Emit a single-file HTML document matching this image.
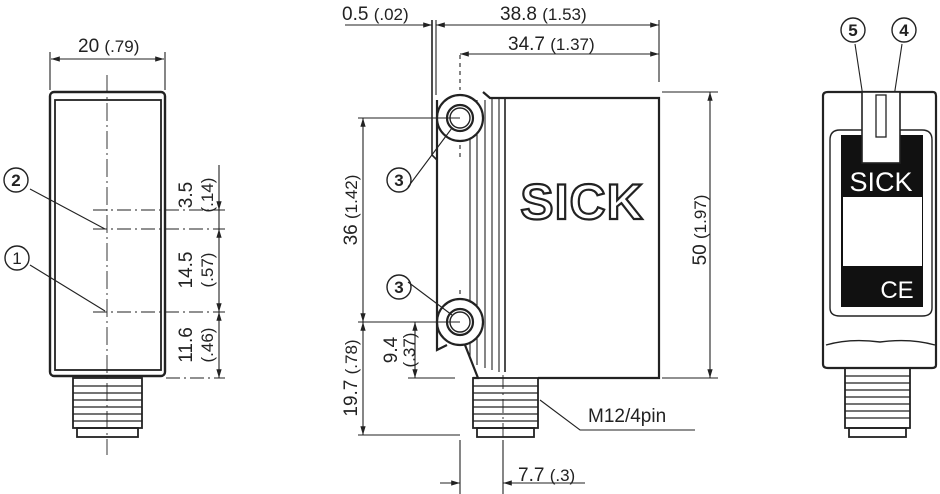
<!DOCTYPE html>
<html><head><meta charset="utf-8"><style>
html,body{margin:0;padding:0;background:#fff;}
svg{display:block;font-family:"Liberation Sans",sans-serif;}
</style></head><body>
<svg width="940" height="494" viewBox="0 0 940 494" xmlns="http://www.w3.org/2000/svg">
<defs>
<marker id="a" viewBox="0 0 10 10" refX="10" refY="5" markerWidth="8" markerHeight="8" orient="auto-start-reverse"><path d="M0,2 L10,5 L0,8 z" fill="#222"/></marker>
</defs>
<g stroke="#222" fill="none" stroke-width="1.1">
<!-- LEFT VIEW -->
<rect x="50" y="92" width="115" height="284" rx="4" stroke-width="2.4"/>
<rect x="55" y="100" width="106" height="270" stroke-width="1.8"/>
<rect x="73" y="378" width="69" height="50" stroke-width="1.8"/>
<rect x="77" y="428" width="61" height="9" stroke-width="1.8"/>
<g stroke-width="1.3"><path d="M73,386H142M73,393H142M73,400H142M73,407H142M73,414H142M73,421H142"/></g>
<path d="M107,75V455" stroke-dasharray="18,4,2,4" stroke-width="0.9"/>
<path d="M50,52V90M165,52V90"/>
<path d="M51,59H164" marker-start="url(#a)" marker-end="url(#a)"/>
<path d="M93,210H225M93,229H225M93,312H225M166,378H225" stroke-dasharray="14,4,2,4"/>
<path d="M219,165V210" marker-end="url(#a)"/>
<path d="M219,229V312" marker-start="url(#a)" marker-end="url(#a)"/>
<path d="M219,312V378" marker-start="url(#a)" marker-end="url(#a)"/>
<path d="M219,210V229"/>
<path d="M30,189L105,229M30,265L105,311"/>
<circle cx="16" cy="180" r="12" stroke-width="1.4"/>
<circle cx="17" cy="258" r="12" stroke-width="1.4"/>

<!-- MIDDLE VIEW -->
<path d="M437,100V350L447,345" stroke-width="2.2"/>
<path d="M483,92L490,98H659V378H538M473,378H478L465,345" stroke-width="2.2"/>
<path d="M432,20V155L437,160" stroke-width="1.6"/>
<path d="M436,20V95"/>
<g stroke-width="1.1"><path d="M470,100V358M477,100V365M485,100V368M492,98V370M499,98V372"/></g>
<path d="M505,98V372" stroke-width="1.6"/>
<circle cx="460" cy="118" r="23" stroke-width="2.2" fill="#fff"/>
<circle cx="460" cy="118" r="13" stroke-width="2.2"/>
<circle cx="460" cy="118" r="10" stroke-width="1.4"/>
<circle cx="460" cy="322" r="23" stroke-width="2.2" fill="#fff"/>
<circle cx="460" cy="322" r="13" stroke-width="2.2"/>
<circle cx="460" cy="322" r="10" stroke-width="1.4"/>
<rect x="473" y="378" width="65" height="50" stroke-width="1.8"/>
<rect x="477" y="428" width="57" height="9" stroke-width="1.8"/>
<g stroke-width="1.3"><path d="M473,386H538M473,393H538M473,400H538M473,407H538M473,414H538M473,421H538"/></g>
<path d="M503,375V480" stroke-dasharray="14,4,2,4" stroke-width="0.9"/>
<path d="M460,55V90M460,145V160M460,290V300" stroke-dasharray="4,4"/>
<path d="M659,20V82"/>
<path d="M345,25H432" marker-end="url(#a)"/>
<path d="M436,25H659" marker-start="url(#a)" marker-end="url(#a)"/>
<path d="M460,54H659" marker-start="url(#a)" marker-end="url(#a)"/>
<path d="M358,118H460M358,322H460M358,435H460M408,378H455"/>
<path d="M363,118V322" marker-start="url(#a)" marker-end="url(#a)"/>
<path d="M363,322V435" marker-start="url(#a)" marker-end="url(#a)"/>
<path d="M415,322V378" marker-start="url(#a)" marker-end="url(#a)"/>
<path d="M662,92H718M662,378H718"/>
<path d="M710,92V378" marker-start="url(#a)" marker-end="url(#a)"/>
<path d="M460,440V494M503,440V494"/>
<path d="M440,483H460" marker-end="url(#a)"/>
<path d="M503,483H585" marker-start="url(#a)"/>
<path d="M540,400L580,430H695"/>
<path d="M408,187L452,128M408,282L452,315"/>
<circle cx="399" cy="180" r="12" stroke-width="1.4"/>
<circle cx="399" cy="287" r="12" stroke-width="1.4"/>

<!-- RIGHT VIEW -->
<path d="M823,96Q823,92 828,92H933Q936,92 936,96V365Q936,368 932,368H828Q823,368 823,364Z" stroke-width="2.2"/>
<path d="M830,140Q830,130 840,130H922Q932,130 932,140V308Q932,316 922,316H840Q830,316 830,308Z" stroke-width="1.4"/>
<path d="M826,345Q850,338 880,342Q910,338 935,345" stroke-width="1.4"/>
<rect x="845" y="368" width="65" height="60" stroke-width="1.8"/>
<rect x="849" y="428" width="57" height="9" stroke-width="1.8"/>
<g stroke-width="1.3"><path d="M845,376H910M845,383H910M845,390H910M845,397H910M845,404H910M845,411H910M845,418H910"/></g>
<path d="M855,44L865,110M902,44L892,110"/>
<circle cx="853" cy="30" r="12" stroke-width="1.4"/>
<circle cx="904" cy="30" r="12" stroke-width="1.4"/>
</g>
<rect x="841" y="135" width="82" height="172" fill="#111"/>
<rect x="843" y="197" width="79" height="69" fill="#fff"/>
<rect x="862" y="92" width="38" height="71" fill="#fff" stroke="#222" stroke-width="1.6"/>
<rect x="876" y="95" width="10" height="42" fill="#fff" stroke="#222" stroke-width="1.3"/>
<text x="881" y="191" font-size="27" fill="#fff" text-anchor="middle">SICK</text>
<text x="897" y="298" font-size="24" fill="#fff" text-anchor="middle" font-weight="300">CE</text>

<text x="582" y="219" font-size="50" font-weight="bold" fill="#fff" stroke="#222" stroke-width="2.2" text-anchor="middle" letter-spacing="1">SICK</text>

<g fill="#222" font-size="19">
<text x="16" y="186" text-anchor="middle" font-size="17" font-weight="bold">2</text>
<text x="17" y="264" text-anchor="middle" font-size="17">1</text>
<text x="399" y="186" text-anchor="middle" font-size="17" font-weight="bold">3</text>
<text x="399" y="293" text-anchor="middle" font-size="17" font-weight="bold">3</text>
<text x="853" y="36" text-anchor="middle" font-size="17" font-weight="bold">5</text>
<text x="904" y="36" text-anchor="middle" font-size="17" font-weight="bold">4</text>
<text x="78" y="52">20 <tspan font-size="17">(.79)</tspan></text>
<text x="342" y="20">0.5 <tspan font-size="17">(.02)</tspan></text>
<text x="500" y="20">38.8 <tspan font-size="17">(1.53)</tspan></text>
<text x="508" y="50">34.7 <tspan font-size="17">(1.37)</tspan></text>
<text x="518" y="481">7.7 <tspan font-size="17">(.3)</tspan></text>
<text x="588" y="422">M12/4pin</text>
<g transform="translate(192,195) rotate(-90)"><text text-anchor="middle">3.5</text></g>
<g transform="translate(213,195) rotate(-90)"><text text-anchor="middle" font-size="17">(.14)</text></g>
<g transform="translate(192,270) rotate(-90)"><text text-anchor="middle">14.5</text></g>
<g transform="translate(213,270) rotate(-90)"><text text-anchor="middle" font-size="17">(.57)</text></g>
<g transform="translate(192,345) rotate(-90)"><text text-anchor="middle">11.6</text></g>
<g transform="translate(213,345) rotate(-90)"><text text-anchor="middle" font-size="17">(.46)</text></g>
<g transform="translate(357,210) rotate(-90)"><text text-anchor="middle">36 <tspan font-size="17">(1.42)</tspan></text></g>
<g transform="translate(357,378) rotate(-90)"><text text-anchor="middle">19.7 <tspan font-size="17">(.78)</tspan></text></g>
<g transform="translate(397,350) rotate(-90)"><text text-anchor="middle">9.4</text></g>
<g transform="translate(415,350) rotate(-90)"><text text-anchor="middle" font-size="17">(.37)</text></g>
<g transform="translate(706,230) rotate(-90)"><text text-anchor="middle">50 <tspan font-size="17">(1.97)</tspan></text></g>
</g>
</svg>
</body></html>
